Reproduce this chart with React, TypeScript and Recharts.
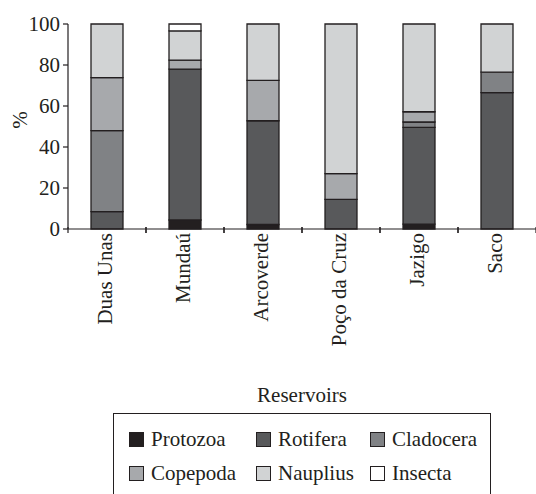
import { BarChart, Bar, XAxis, YAxis } from "recharts";

const reservoirs = ["Duas Unas", "Mundaú", "Arcoverde", "Poço da Cruz", "Jazigo", "Saco"];
const protozoa = [0, 4.4, 2.2, 0, 2.4, 0];
const rotifera = [8.5, 73.6, 50.6, 14.5, 47.2, 66.5];
const cladocera = [39.5, 0, 0, 0, 2.6, 10];
const copepoda = [25.8, 4.4, 19.7, 12.5, 5, 0];
const nauplius = [26.2, 14.2, 27.5, 73, 42.8, 23.5];
const insecta = [0, 3.4, 0, 0, 0, 0];
const yTicks = [0, 20, 40, 60, 80, 100];

const INK = "#231f20";
const FONT = "'Liberation Serif', 'Times New Roman', serif";

const series = [
  { key: "Protozoa", values: protozoa, color: "#231f20" },
  { key: "Rotifera", values: rotifera, color: "#58595b" },
  { key: "Cladocera", values: cladocera, color: "#808285" },
  { key: "Copepoda", values: copepoda, color: "#a7a9ac" },
  { key: "Nauplius", values: nauplius, color: "#d1d3d4" },
  { key: "Insecta", values: insecta, color: "#ffffff" },
];

const data = reservoirs.map((name, i) => {
  const row: Record<string, string | number> = { name };
  series.forEach((s) => (row[s.key] = s.values[i]));
  return row;
});

// category labels rotated, plus a tick mark on the left edge of each band
const CategoryTick = (props: any) => {
  const { x, y, payload } = props;
  const half = 39;
  return (
    <g>
      <line x1={x - half} y1={y - 8} x2={x - half} y2={y - 2} stroke={INK} strokeWidth={1.2} />
      <line x1={x + half} y1={y - 8} x2={x + half} y2={y - 2} stroke={INK} strokeWidth={1.2} />
      <text
        x={x - 2}
        y={y - 2}
        transform={`rotate(-90 ${x - 2} ${y - 2})`}
        textAnchor="end"
        dominantBaseline="central"
        fill={INK}
        fontSize={21}
        fontFamily={FONT}
      >
        {payload.value}
      </text>
    </g>
  );
};

const legendCols = [129, 256, 370];

export default function App() {
  return (
    <div style={{ position: "fixed", left: 0, top: 0, width: 536, height: 494, background: "#fff" }}>
      <BarChart
        width={536}
        height={494}
        data={data}
        margin={{ top: 24, right: 0, left: 0, bottom: 0 }}
        barSize={32}
      >
        <XAxis
          dataKey="name"
          interval={0}
          height={265}
          axisLine={{ stroke: INK, strokeWidth: 1.2 }}
          tickLine={false}
          tick={<CategoryTick />}
          tickMargin={0}
          label={{
            content: () => (
              <text x={302} y={402} textAnchor="middle" fill={INK} fontSize={21} fontFamily={FONT}>
                Reservoirs
              </text>
            ),
          }}
        />
        <YAxis
          width={68}
          domain={[0, 100]}
          ticks={yTicks}
          interval={0}
          axisLine={{ stroke: INK, strokeWidth: 1.2 }}
          tickLine={{ stroke: INK, strokeWidth: 1.2 }}
          tickSize={5}
          tickMargin={3}
          tick={{ fill: INK, fontSize: 21, fontFamily: FONT }}
          label={{
            content: () => (
              <text
                x={20}
                y={120}
                transform="rotate(-90 20 120)"
                textAnchor="middle"
                dominantBaseline="central"
                fill={INK}
                fontSize={21}
                fontFamily={FONT}
              >
                %
              </text>
            ),
          }}
        />
        {series.map((s) => (
          <Bar
            key={s.key}
            dataKey={s.key}
            stackId="a"
            fill={s.color}
            stroke={INK}
            strokeWidth={1.3}
            isAnimationActive={false}
          />
        ))}
      </BarChart>
      <div
        style={{
          position: "absolute",
          left: 113,
          top: 413,
          width: 378,
          height: 82,
          border: `1.5px solid ${INK}`,
          borderBottom: "none",
          boxSizing: "border-box",
        }}
      />
      {series.map((s, i) => {
        const col = legendCols[i % 3];
        const top = i < 3 ? 432 : 466;
        return (
          <div
            key={s.key}
            style={{
              position: "absolute",
              left: col,
              top: top - 5,
              display: "flex",
              alignItems: "center",
              fontFamily: FONT,
              fontSize: 21,
              color: INK,
              whiteSpace: "nowrap",
              lineHeight: "25px",
            }}
          >
            <span
              style={{
                display: "inline-block",
                width: 15,
                height: 15,
                background: s.color,
                border: `1.2px solid ${INK}`,
                boxSizing: "border-box",
                marginRight: 7,
              }}
            />
            {s.key}
          </div>
        );
      })}
    </div>
  );
}
